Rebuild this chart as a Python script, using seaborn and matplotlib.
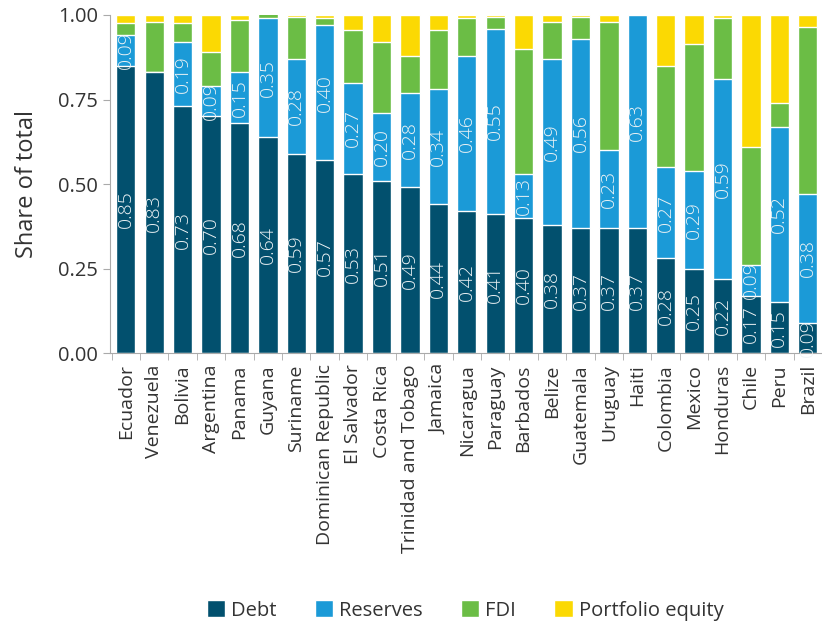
import numpy as np
import pandas as pd
import matplotlib.pyplot as plt
import seaborn as sns
from matplotlib.patches import Patch

# Shares
countries = ["Ecuador", "Venezuela", "Bolivia", "Argentina", "Panama", "Guyana",
             "Suriname", "Dominican Republic", "El Salvador", "Costa Rica",
             "Trinidad and Tobago", "Jamaica", "Nicaragua", "Paraguay", "Barbados",
             "Belize", "Guatemala", "Uruguay", "Haiti", "Colombia", "Mexico",
             "Honduras", "Chile", "Peru", "Brazil"]
debt = [0.85, 0.83, 0.73, 0.70, 0.68, 0.64, 0.59, 0.57, 0.53, 0.51, 0.49, 0.44, 0.42,
        0.41, 0.40, 0.38, 0.37, 0.37, 0.37, 0.28, 0.25, 0.22, 0.17, 0.15, 0.09]
reserves = [0.09, 0.00, 0.19, 0.09, 0.15, 0.35, 0.28, 0.40, 0.27, 0.20, 0.28, 0.34, 0.46,
            0.55, 0.13, 0.49, 0.56, 0.23, 0.63, 0.27, 0.29, 0.59, 0.09, 0.52, 0.38]
fdi = [0.035, 0.15, 0.055, 0.10, 0.155, 0.02, 0.125, 0.02, 0.155, 0.21, 0.11, 0.175,
       0.11, 0.035, 0.37, 0.11, 0.065, 0.38, 0.005, 0.30, 0.375, 0.18, 0.35, 0.07, 0.495]
portfolio = [0.025, 0.02, 0.025, 0.11, 0.015, 0.0, 0.005, 0.01, 0.045, 0.08, 0.12, 0.045,
             0.01, 0.005, 0.10, 0.02, 0.005, 0.02, 0.0, 0.15, 0.085, 0.01, 0.39, 0.26, 0.035]

components = ["Debt", "Reserves", "FDI", "Portfolio equity"]
colors = ["#02506e", "#1b9ad7", "#6bbd45", "#fbd903"]

df = pd.DataFrame({"country": countries, "Debt": debt, "Reserves": reserves,
                   "FDI": fdi, "Portfolio equity": portfolio})
cum = df[components].cumsum(axis=1)

sns.set_style("ticks")
plt.rcParams["font.family"] = ["Open Sans", "DejaVu Sans"]
plt.rcParams["text.color"] = "#333333"
plt.rcParams["axes.labelcolor"] = "#333333"
plt.rcParams["xtick.color"] = "#aaaaaa"
plt.rcParams["ytick.color"] = "#aaaaaa"
plt.rcParams["xtick.labelcolor"] = "#333333"
plt.rcParams["ytick.labelcolor"] = "#333333"

fig = plt.figure(figsize=(8.22, 6.25), dpi=100)
ax = fig.add_axes([0.134, 0.435, 0.866, 0.541])

# draw cumulative totals back to front so they stack
for comp, col in zip(components[::-1], colors[::-1]):
    sns.barplot(x=df["country"], y=cum[comp], color=col, width=0.68,
                saturation=1, ax=ax, errorbar=None, order=countries)

# value labels for debt and reserves
for i in range(len(countries)):
    ax.text(i, debt[i] / 2, f"{debt[i]:.2f}", rotation=90, ha="center", va="center",
            color="#eef3f5", fontsize=14, fontweight="light")
    if reserves[i] >= 0.09:
        ax.text(i, debt[i] + reserves[i] / 2, f"{reserves[i]:.2f}", rotation=90,
                ha="center", va="center", color="#eef3f5", fontsize=14,
                fontweight="light")

ax.set_ylim(0, 1)
ax.set_xlim(-0.55, len(countries) - 0.5)
ax.set_yticks([0, 0.25, 0.5, 0.75, 1.0])
ax.set_yticklabels(["0.00", "0.25", "0.50", "0.75", "1.00"], fontsize=14.5)
ax.set_xticks(range(len(countries)))
ax.set_xticklabels(countries, rotation=90, fontsize=14)
ax.tick_params(axis="x", length=0, pad=8)
ax.set_xticks(np.arange(-0.5, len(countries), 1), minor=True)
ax.tick_params(axis="x", which="minor", length=5, color="#aaaaaa")
ax.tick_params(axis="y", length=5)
ax.set_xlabel("")
ax.set_ylabel("Share of total", fontsize=17, labelpad=14)
sns.despine(ax=ax)
for s in ["left", "bottom"]:
    ax.spines[s].set_color("#aaaaaa")

handles = [Patch(facecolor=c, label=l) for c, l in zip(colors, components)]
fig.legend(handles=handles, loc="lower center", bbox_to_anchor=(0.566, -0.022), ncol=4,
           frameon=False, fontsize=14.5, handlelength=0.9, handleheight=0.9,
           handletextpad=0.3, columnspacing=1.9)

fig.savefig("out.png", dpi=100)
